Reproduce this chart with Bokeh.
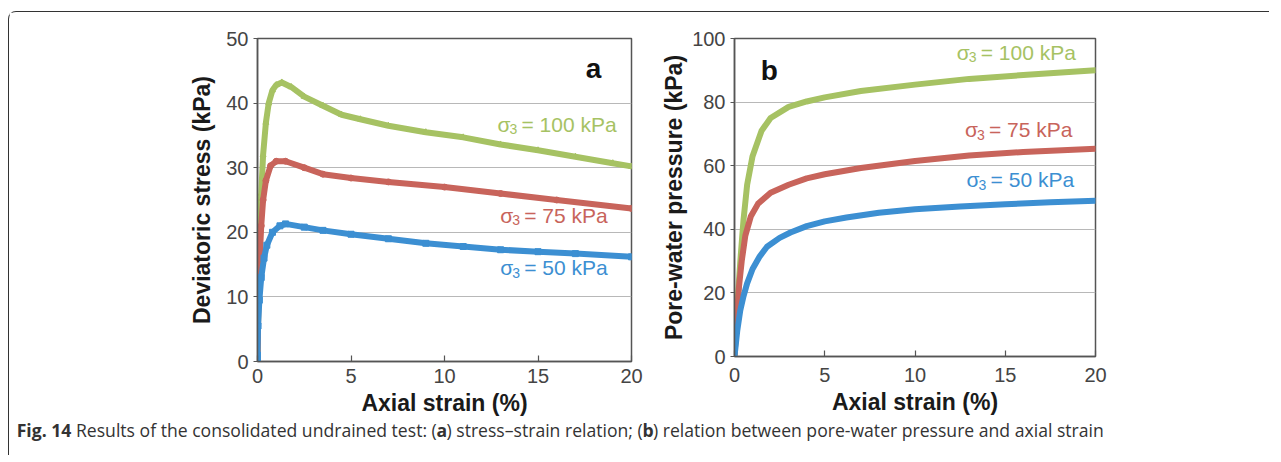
from bokeh.plotting import figure
from bokeh.layouts import row, column
from bokeh.models import Range1d, SingleIntervalTicker, Label
from bokeh.embed import file_html
from bokeh.resources import INLINE

# ---------------- data ----------------
# Panel a: deviatoric stress (kPa) vs axial strain (%)
a100_x = [0, 0.05, 0.1, 0.2, 0.3, 0.45, 0.6, 0.8, 1.0, 1.3, 1.8, 2.5, 3.5, 4.5, 5.5, 7, 9, 11, 13, 15, 17, 19, 20]
a100_y = [0, 10, 18, 26, 32, 37, 40, 42, 42.8, 43.2, 42.5, 41, 39.6, 38.2, 37.5, 36.5, 35.5, 34.7, 33.6, 32.7, 31.7, 30.7, 30.2]
a75_x = [0, 0.05, 0.1, 0.2, 0.3, 0.45, 0.7, 1.0, 1.5, 2.5, 3.5, 5, 7, 10, 13, 16, 20]
a75_y = [0, 10, 15, 21, 25, 28, 30.3, 31, 31, 30, 29, 28.4, 27.8, 27, 26, 25, 23.7]
a50_x = [0, 0, 0.03, 0.1, 0.2, 0.35, 0.5, 0.8, 1.2, 1.5, 2.5, 3.5, 5, 7, 9, 11, 13, 15, 17, 20]
a50_y = [0, 1, 5.5, 9.5, 13, 16, 18, 20, 21, 21.3, 20.8, 20.3, 19.7, 19, 18.3, 17.8, 17.3, 17, 16.7, 16.2]

# Panel b: pore-water pressure (kPa) vs axial strain (%)
b100_x = [0, 0.1, 0.2, 0.35, 0.5, 0.7, 1.0, 1.5, 2, 3, 4, 5, 7, 10, 13, 16, 20]
b100_y = [0, 10, 20, 32, 43, 54, 63, 71, 75, 78.5, 80.2, 81.5, 83.5, 85.5, 87.3, 88.5, 90]
b75_x = [0, 0.1, 0.25, 0.4, 0.6, 0.9, 1.3, 2, 3, 4, 5, 7, 10, 13, 16, 20]
b75_y = [0, 10, 22, 30, 38, 44, 48, 51.5, 54, 56, 57.3, 59.3, 61.5, 63.2, 64.3, 65.3]
b50_x = [0, 0.15, 0.32, 0.5, 0.7, 1.0, 1.4, 1.8, 2.5, 3.1, 4, 5, 6.2, 8, 10, 12.5, 15, 17.5, 20]
b50_y = [0, 8, 14.5, 19, 23, 27.5, 31.5, 34.5, 37.3, 39, 41, 42.5, 43.7, 45.2, 46.3, 47.2, 47.9, 48.5, 49]

series_labels = ["= 100 kPa", "= 75 kPa", "= 50 kPa"]
GREEN, RED, BLUE = "#a6c263", "#c8645b", "#3c8fd2"

FONT = "Liberation Sans"
CAP_FONT = "Open Sans"


def style(p, tick_interval, label_standoff_x, ylabel_standoff):
    p.xaxis.ticker = SingleIntervalTicker(interval=5)
    p.yaxis.ticker = SingleIntervalTicker(interval=tick_interval)
    for ax in (p.xaxis[0], p.yaxis[0]):
        ax.axis_label_text_font = FONT
        ax.axis_label_text_font_style = "bold"
        ax.axis_label_text_font_size = "23px"
        ax.axis_label_text_color = "#1a1a1a"
        ax.major_label_text_font = FONT
        ax.major_label_text_font_size = "20px"
        ax.major_label_text_color = "#444444"
        ax.axis_line_color = "#555555"
        ax.axis_line_width = 1.5
        ax.major_tick_line_color = "#555555"
        ax.major_tick_line_width = 1.2
        ax.minor_tick_line_color = None
    p.xaxis.major_tick_in = 6
    p.xaxis.major_tick_out = 0
    p.xaxis.major_label_standoff = label_standoff_x
    p.xaxis.axis_label_standoff = 4
    p.yaxis.major_tick_in = 0
    p.yaxis.major_tick_out = 4
    p.yaxis.major_label_standoff = 5
    p.yaxis.axis_label_standoff = ylabel_standoff
    p.xgrid.grid_line_color = None
    p.ygrid.grid_line_color = "#b8b8b8"
    p.ygrid.grid_line_width = 1.2
    p.outline_line_color = "#555555"
    p.outline_line_width = 1.5
    p.background_fill_color = "white"
    p.border_fill_color = "white"


def sigma_label(p, x, y, rest, color):
    common = dict(x=x, y=y, text_font=FONT, text_color=color, text_baseline="alphabetic")
    p.add_layout(Label(text="σ", text_font_size="21px", y_offset=8, **common))
    p.add_layout(Label(text="3", text_font_size="14px", x_offset=12, y_offset=3, **common))
    p.add_layout(Label(text=rest, text_font_size="21px", x_offset=24, y_offset=8, **common))


# ---------------- panel a ----------------
pa = figure(frame_width=374, frame_height=323, min_border_left=248, min_border_right=16,
            min_border_top=26, min_border_bottom=30,
            x_range=Range1d(0, 20), y_range=Range1d(0, 50),
            output_backend="svg", toolbar_location=None)
pa.xaxis.axis_label = "Axial strain (%)"
pa.yaxis.axis_label = "Deviatoric stress (kPa)"
style(pa, 10, 3, 8)
for xs, ys, c, mk in ((a100_x, a100_y, GREEN, "triangle"), (a75_x, a75_y, RED, "circle"), (a50_x, a50_y, BLUE, "square")):
    pa.line(xs, ys, line_color=c, line_width=6, line_join="round", line_cap="round")
    pa.scatter(xs, ys, marker=mk, size=6, fill_color=c, line_color=c)
pa.add_layout(Label(x=17.55, y=44.08, y_offset=8, text="a", text_font=FONT, text_font_style="bold",
                    text_font_size="28px", text_color="#111111", text_baseline="alphabetic"))
sigma_label(pa, 12.83, 35.46, series_labels[0], GREEN)
sigma_label(pa, 12.98, 21.4, series_labels[1], RED)
sigma_label(pa, 12.98, 13.3, series_labels[2], BLUE)

# ---------------- panel b ----------------
pb = figure(frame_width=361, frame_height=318, min_border_left=87, min_border_right=174,
            min_border_top=25, min_border_bottom=30,
            x_range=Range1d(0, 20), y_range=Range1d(0, 100),
            output_backend="svg", toolbar_location=None)
pb.xaxis.axis_label = "Axial strain (%)"
pb.yaxis.axis_label = "Pore-water pressure (kPa)"
style(pb, 20, 7, 2)
for xs, ys, c in ((b100_x, b100_y, GREEN), (b75_x, b75_y, RED), (b50_x, b50_y, BLUE)):
    pb.line(xs, ys, line_color=c, line_width=6, line_join="round", line_cap="round")
pb.add_layout(Label(x=1.45, y=87.5, y_offset=8, text="b", text_font=FONT, text_font_style="bold",
                    text_font_size="28px", text_color="#111111", text_baseline="alphabetic"))
sigma_label(pb, 12.31, 93.15, series_labels[0], GREEN)
sigma_label(pb, 12.77, 68.8, series_labels[1], RED)
sigma_label(pb, 12.86, 53.1, series_labels[2], BLUE)

# ---------------- caption ----------------
pc = figure(width=1260, height=37, x_range=Range1d(0, 1260), y_range=Range1d(0, 37),
            min_border=0, output_backend="svg", toolbar_location=None)
pc.axis.visible = False
pc.grid.visible = False
pc.outline_line_color = None
pc.border_fill_color = "white"
pc.background_fill_color = "white"
cap = dict(y=25.5, text_font=CAP_FONT, text_font_size="17.6px", text_color="#333333", text_baseline="middle")
pc.add_layout(Label(x=7.2, text="Fig. 14", text_font_style="bold", **cap))
pc.add_layout(Label(x=66.5, text="Results of the consolidated undrained test: (", **cap))
pc.add_layout(Label(x=427, text="a", text_font_style="bold", **cap))
pc.add_layout(Label(x=437, text=") stress–strain relation; (", **cap))
pc.add_layout(Label(x=633, text="b", text_font_style="bold", **cap))
pc.add_layout(Label(x=643.5, text=") relation between pore-water pressure and axial strain", **cap))

layout = column(row(pa, pb), pc,
                styles={"margin-left": "8px", "margin-top": "11px",
                        "border-left": "1.5px solid #333333", "border-top": "1.5px solid #333333",
                        "border-top-left-radius": "8px"})

open("out.html", "w").write(file_html(layout, INLINE))
